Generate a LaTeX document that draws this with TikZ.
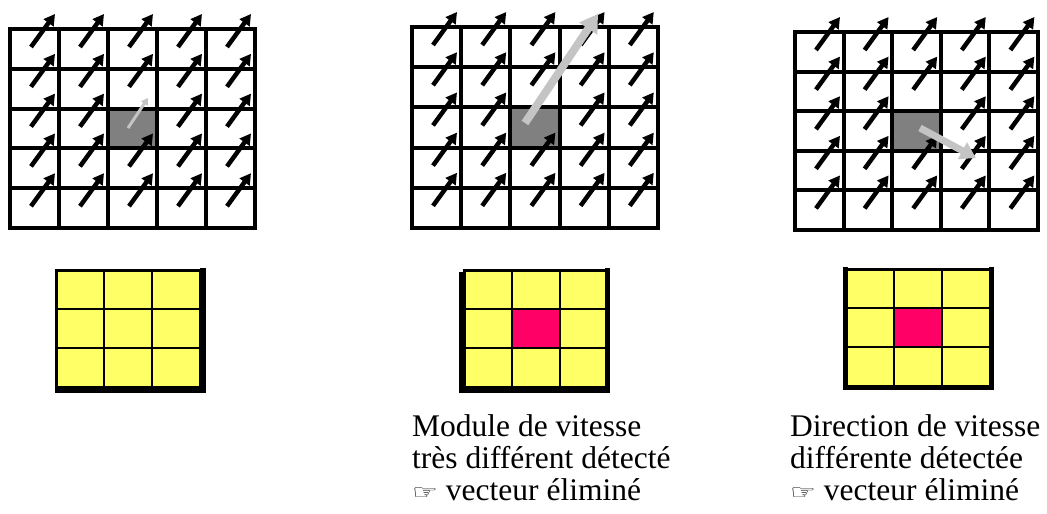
\documentclass[tikz,border=0pt]{standalone}
\usepackage{fontspec}
\setmainfont{Liberation Serif}
\newfontfamily\handfont{DejaVu Sans}
\usetikzlibrary{arrows.meta}

\definecolor{cellgray}{RGB}{128,128,128}
\definecolor{palegray}{RGB}{196,196,196}
\definecolor{paleyellow}{RGB}{255,255,102}
\definecolor{hotred}{RGB}{255,0,102}

\newcommand\pointer{\raisebox{1pt}{\scalebox{0.85}[0.6]{\handfont\fontsize{34}{34}\selectfont ☞}}}

\tikzset{
  gridline/.style={line width=4pt,line cap=rect},
  thinline/.style={line width=1.3pt},
  vec/.style={line width=4.5pt,-{Triangle[length=11pt,width=12pt]}},
  outlier/.style={palegray,line width=#1,-{Triangle[length=2.2*#1,width=2.6*#1]}},
  caption/.style={font=\fontsize{31.5}{32.5}\selectfont,inner sep=0pt,anchor=base west}
}

% 5x5 field of motion vectors: x0, y0, cell width, cell height
\newcommand\vecfield[4]{%
  \fill[cellgray] ({#1+2*#3},{#2+2*#4}) rectangle ++(#3,#4);
  \foreach \i in {0,...,5}
    \draw[gridline] ({#1+\i*#3},#2) -- ++(0,{5*#4});
  \foreach \j in {0,...,5}
    \draw[gridline] (#1,{#2+\j*#4}) -- ++({5*#3},0);
  \foreach \i in {0,...,4}
    \foreach \j in {0,...,4}{
      \ifnum\numexpr\i*10+\j\relax=22 \else
        \draw[vec] ({#1+\i*#3+21},{#2+\j*#4+18}) -- ++(24,-33);
      \fi}
}

% 3x3 voting window: x0, y0, centre colour
\newcommand\votegrid[3]{%
  \fill[paleyellow] (#1,#2) rectangle ++(144,117);
  \fill[#3] ({#1+48},{#2+39}) rectangle ++(48,39);
  \foreach \k in {1,2}{
    \draw[thinline] ({#1+\k*48},#2) -- ++(0,117);
    \draw[thinline] (#1,{#2+\k*39}) -- ++(144,0);}
  \draw[line width=3pt] (#1,#2) rectangle ++(144,117);
}

\begin{document}
\begin{tikzpicture}[x=1pt,y=-1pt]
  \useasboundingbox (0,0) rectangle (1047,514);

  \vecfield{10}{29}{49}{39.8}
  \vecfield{412}{27}{49.2}{40.2}
  \vecfield{795}{32}{48.6}{39.6}

  \draw[outlier=3pt] (128,128) -- (148,98);
  \draw[outlier=8pt] (525,123) -- (598,14);
  \draw[outlier=7pt] (920,128) -- (976,158);

  \votegrid{56}{270}{paleyellow}
  \votegrid{464}{270}{hotred}
  \votegrid{846}{269}{hotred}

  % heavier edges of the windows
  \draw[line width=6pt] (203,268) -- (203,390) -- (55,390);
  \draw[line width=5pt] (461,272) -- (461,390) -- (607,390) -- (607,268);
  \draw[line width=5pt] (845,267) -- (845,387) -- (991,387) -- (991,267);

  \node[caption] (module_a) at (412,436) {Module de vitesse};
  \node[caption] (module_b) at (412,468) {très différent détecté};
  \node[caption] (module_c) at (412,500) {\pointer\ vecteur éliminé};
  \node[caption] (direction_a) at (790,436) {Direction de vitesse};
  \node[caption] (direction_b) at (790,468) {différente détectée};
  \node[caption] (direction_c) at (790,500) {\pointer\ vecteur éliminé};
\end{tikzpicture}
\end{document}
